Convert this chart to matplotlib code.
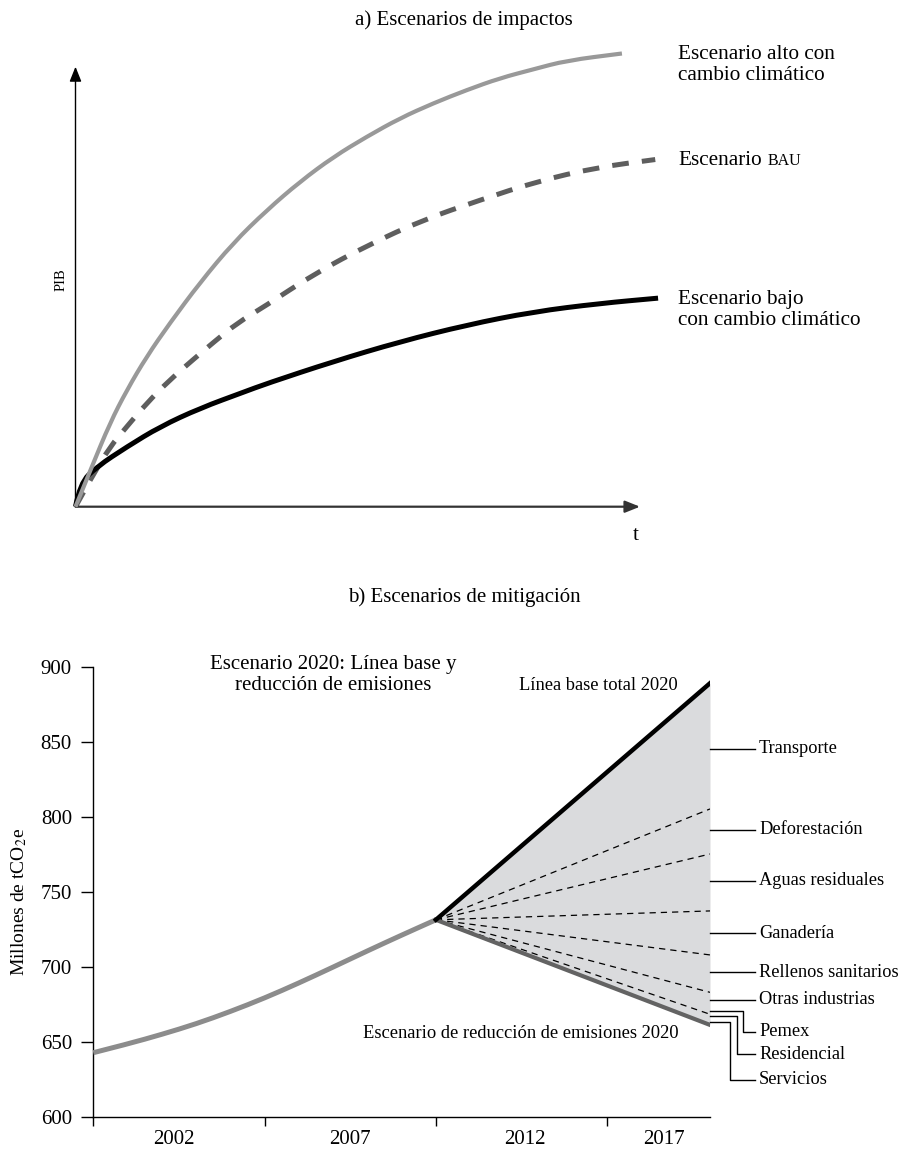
import numpy as np
import matplotlib
matplotlib.use("Agg")
import matplotlib.pyplot as plt
from matplotlib.path import Path
from matplotlib.patches import PathPatch

plt.rcParams['font.family'] = ['Liberation Serif', 'DejaVu Serif']
plt.rcParams['mathtext.fontset'] = 'stix'
plt.rcParams['lines.scale_dashes'] = False

# -----------------------------
# a) Impact scenarios (stylised, axis units 0-100)
# -----------------------------
alto_t = [0, 2.9, 6.1, 9.1, 12.6, 16.7, 22.1, 27.9, 33.9, 39.8, 45.7, 51.6,
          57.5, 63.4, 69.3, 75.2, 81.1, 87.0, 96.8]
alto_p = [0, 9.1, 19.0, 26.5, 34.1, 41.7, 51.0, 59.9, 67.4, 73.9, 79.5, 84.1,
          88.3, 91.7, 94.7, 97.4, 99.4, 101.4, 103.0]

bau_t = [0, 2.9, 6.1, 9.1, 12.6, 16.7, 20.9, 24.4, 28.6, 33.6, 42.4, 51.9,
         61.6, 71.7, 81.7, 92.3, 102.7]
bau_p = [0, 6.8, 13.6, 18.2, 23.5, 28.8, 33.5, 37.3, 41.7, 45.6, 53.0, 59.5,
         65.2, 69.7, 73.9, 77.1, 78.9]

bajo_t = [0, 0.8, 3.8, 9.1, 15.0, 22.1, 29.7, 33.9, 45.7, 57.5, 69.3, 81.1,
          92.9, 103.2]
bajo_p = [0, 5.3, 9.1, 13.6, 18.2, 22.4, 26.0, 28.0, 33.0, 37.5, 41.3, 44.3,
          46.2, 47.4]

# -----------------------------
# b) Mitigation scenarios
# -----------------------------
hist_years = [2000, 2001, 2002, 2003, 2004, 2005, 2006, 2007, 2008, 2009, 2010]
hist_vals = [643, 648.8, 655.2, 662.2, 670.4, 679.4, 689.4, 700.0, 710.8, 721.3, 731.5]

branch_year = 2010
end_year = 2018
branch_val = 731.5
base_end = 889
reduc_end = 661.5
wedge_ends = [805.3, 775.3, 737.4, 708.1, 683.2, 668.6]

sectors = ["Transporte", "Deforestación", "Aguas residuales", "Ganadería",
           "Rellenos sanitarios", "Otras industrias", "Pemex", "Residencial",
           "Servicios"]
sector_label_y = [845.5, 791.3, 757.5, 722.5, 696.5, 678.1, 657.0, 642.0, 625.0]
# elbow leaders for the three small wedges: start value and elbow year
elbow_start_y = [671.0, 667.4, 663.6]
elbow_x = [2018.95, 2018.78, 2018.58]

yticks = [600, 650, 700, 750, 800, 850, 900]
xlabel_pos = [2002.35, 2007.5, 2012.6, 2016.65]
xlabel_txt = ["2002", "2007", "2012", "2017"]


def smooth_curve(ax, xs, ys, **kw):
    # quadratic bezier through the midpoints, so the drawn line has no corners
    pts = list(zip(xs, ys))
    verts = [pts[0]]
    codes = [Path.MOVETO]
    for i in range(1, len(pts) - 1):
        mid = ((pts[i][0] + pts[i + 1][0]) / 2, (pts[i][1] + pts[i + 1][1]) / 2)
        verts += [pts[i], mid]
        codes += [Path.CURVE3, Path.CURVE3]
    verts.append(pts[-1])
    codes.append(Path.LINETO)
    patch = PathPatch(Path(verts, codes), fill=False, clip_on=False,
                      capstyle="butt", **kw)
    ax.add_patch(patch)
    return patch


W, H = 907, 1150
fig = plt.figure(figsize=(W / 100, H / 100), dpi=100)

# ----- panel a -----
ax1 = fig.add_axes([75.5 / W, (H - 506.7) / H, (640 - 75.5) / W, 440 / H])
ax1.set_xlim(0, 100)
ax1.set_ylim(0, 100)
ax1.axis("off")

smooth_curve(ax1, bajo_t, bajo_p, edgecolor="black", lw=3.6, zorder=3)
smooth_curve(ax1, bau_t, bau_p, edgecolor="#5e5e5e", lw=3.6,
             linestyle=(0, (12, 9.5)), zorder=2)
smooth_curve(ax1, alto_t, alto_p, edgecolor="#999999", lw=3.0, zorder=4)

arrow = dict(arrowstyle="-|>,head_length=0.45,head_width=0.18", color="black",
             lw=1.0, shrinkA=0, shrinkB=0, mutation_scale=20)
ax1.annotate("", xy=(0, 100), xytext=(0, 0), arrowprops=arrow,
             annotation_clip=False)
arrow_x = dict(arrow, color="#333333", lw=1.6)
ax1.annotate("", xy=(100, 0), xytext=(0, 0), arrowprops=arrow_x,
             annotation_clip=False)

ax1.text(99.2, -6.5, "t", fontsize=15, ha="center", va="center", clip_on=False)
ax1.text(-2.6, 51.7, "PIB", fontsize=10.5, rotation=90, ha="center",
         va="center", clip_on=False)

ax1.text(106.8, 100.4, "Escenario alto con\ncambio climático", fontsize=15.3,
         ha="left", va="center", linespacing=1.1, clip_on=False)
t_esc = ax1.text(106.8, 77.7, "Escenario", fontsize=15.3, ha="left",
                 va="baseline", clip_on=False)
ax1.annotate("BAU", xy=(1, 77.7), xycoords=(t_esc, "data"), xytext=(4, 0),
             textcoords="offset points", fontsize=11.5, ha="left",
             va="baseline", annotation_clip=False)
ax1.text(106.8, 44.7, "Escenario bajo\ncon cambio climático", fontsize=15.3,
         ha="left", va="center", linespacing=1.1, clip_on=False)

fig.text(464 / W, 1 - 19.7 / H, "a) Escenarios de impactos", fontsize=15,
         ha="center", va="center")

# ----- panel b -----
ax2 = fig.add_axes([93.3 / W, (H - 1117.3) / H, (710 - 93.3) / W,
                    (1117.3 - 666.7) / H])
ax2.set_xlim(2000, end_year)
ax2.set_ylim(600, 900)
for s in ["top", "right"]:
    ax2.spines[s].set_visible(False)
for s in ["left", "bottom"]:
    ax2.spines[s].set_linewidth(1.0)

xs = [branch_year, end_year]
ax2.fill_between(xs, [branch_val, base_end], [branch_val, reduc_end],
                 color="#dadbdd", lw=0, zorder=1)
for v in wedge_ends:
    ax2.plot(xs, [branch_val, v], color="black", lw=0.9, dashes=(4.5, 3.6),
             zorder=2)
smooth_curve(ax2, hist_years, hist_vals, edgecolor="#8c8c8c", lw=3.6, zorder=3)
ax2.plot(xs, [branch_val, reduc_end], color="#636363", lw=3.0, zorder=4)
ax2.plot(xs, [branch_val, base_end], color="black", lw=3.2, zorder=5)

# sector labels with leaders
x_lead_end = 2019.31
x_lab = 2019.43
for name, y in zip(sectors[:6], sector_label_y[:6]):
    ax2.plot([end_year, x_lead_end], [y, y], color="black", lw=1.0,
             clip_on=False)
    ax2.text(x_lab, y, name, fontsize=13.2, ha="left", va="center",
             clip_on=False)
for name, y, y0, xe in zip(sectors[6:], sector_label_y[6:], elbow_start_y, elbow_x):
    ax2.plot([end_year, xe, xe, x_lead_end], [y0, y0, y, y], color="black",
             lw=1.0, clip_on=False)
    ax2.text(x_lab, y, name, fontsize=13.2, ha="left", va="center",
             clip_on=False)

ax2.text(2007.0, 894.6, "Escenario 2020: Línea base y\nreducción de emisiones",
         fontsize=15, ha="center", va="center", linespacing=1.1)
ax2.text(2017.07, 887.2, "Línea base total 2020", fontsize=13.3, ha="right",
         va="center")
ax2.text(2017.07, 656.0, "Escenario de reducción de emisiones 2020",
         fontsize=13.3, ha="right", va="center")

ax2.set_yticks(yticks)
ax2.tick_params(axis="y", direction="out", length=8.4, width=1.0, pad=7,
                labelsize=15)
ax2.set_xticks([2000, 2005, 2010, 2015])
ax2.set_xticklabels([])
ax2.tick_params(axis="x", which="major", direction="out", length=6.5, width=1.0)
ax2.set_xticks(xlabel_pos, minor=True)
ax2.set_xticklabels(xlabel_txt, minor=True)
ax2.tick_params(axis="x", which="minor", length=0, pad=9, labelsize=15)

ax2.text(-0.1205, 0.477, "Millones de tCO$_2$e", fontsize=14, rotation=90,
         ha="center", va="center", transform=ax2.transAxes)

fig.text(464 / W, 1 - 597 / H, "b) Escenarios de mitigación", fontsize=15,
         ha="center", va="center")

fig.savefig("out.png", dpi=100)
